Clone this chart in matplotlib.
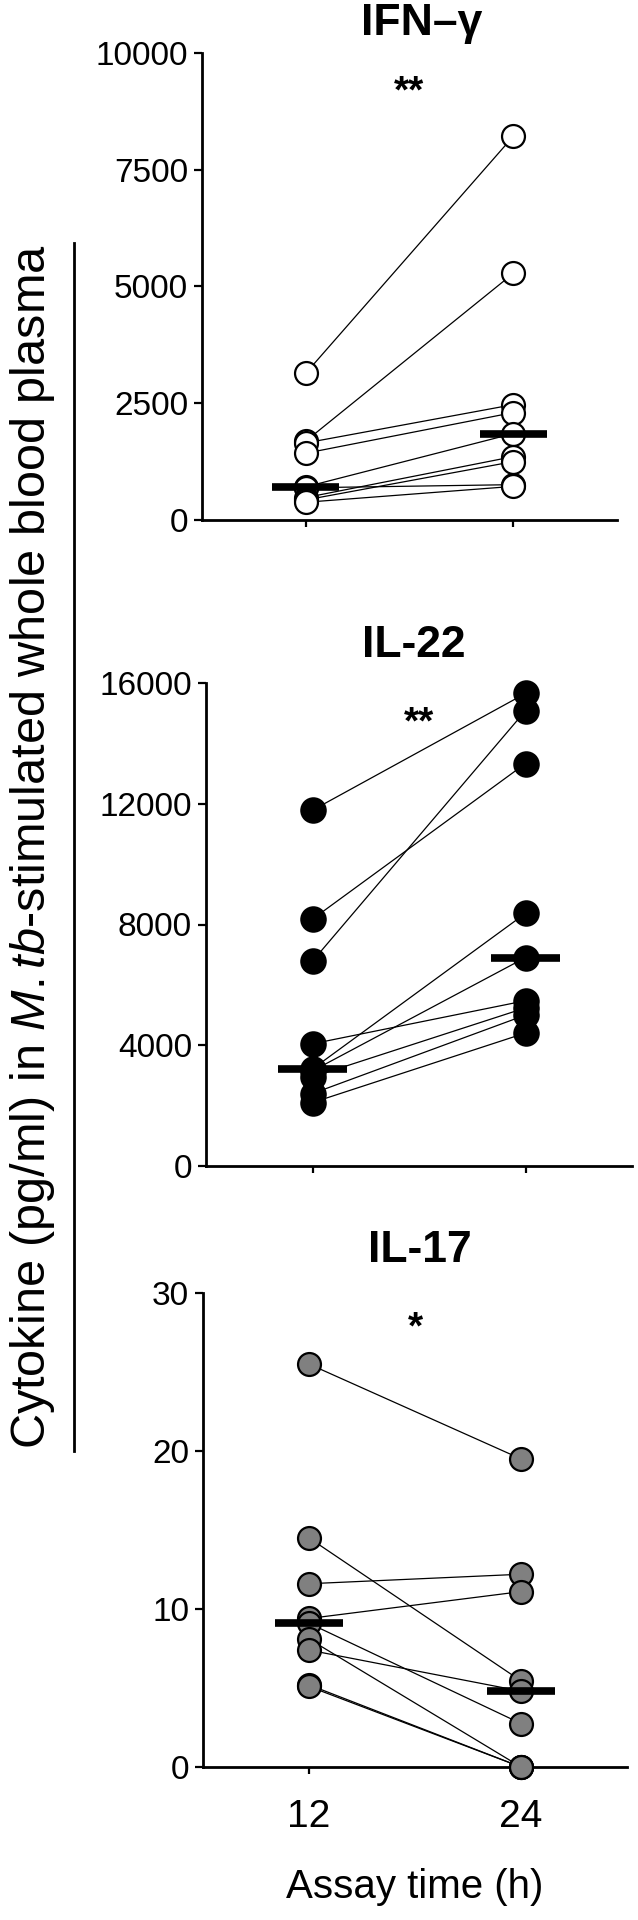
import numpy as np
import matplotlib.pyplot as plt
from matplotlib.lines import Line2D

plt.rcParams['font.family'] = 'Liberation Sans'
plt.rcParams['mathtext.fontset'] = 'custom'
plt.rcParams['mathtext.rm'] = 'Liberation Sans'
plt.rcParams['mathtext.it'] = 'Liberation Sans:italic'

W, H = 638, 1920
times = [12, 24]
time_labels = ['12', '24']

# paired values, one entry per donor (12 h, 24 h)
ifn_12 = [3142, 1690, 1650, 1430, 710, 690, 480, 430, 380]
ifn_24 = [8215, 5280, 2470, 2300, 1850, 757, 1357, 1250, 720]

il22_12 = [11786, 8178, 6786, 4048, 3214, 3150, 2950, 2400, 2100]
il22_24 = [15655, 13333, 15083, 5476, 8369, 6905, 5238, 5000, 4405]

il17_12 = [25.5, 14.5, 11.6, 9.4, 9.1, 8.1, 7.4, 5.2, 5.1]
il17_24 = [19.5, 5.45, 12.2, 11.1, 2.75, 0, 4.8, 0, 0]

titles = ['IFN\u2013\u03b3', 'IL-22', 'IL-17']
stars = ['**', '**', '*']
ymax = [10000, 16000, 30]
yticks = [[0, 2500, 5000, 7500, 10000],
          [0, 4000, 8000, 12000, 16000],
          [0, 10, 20, 30]]
fills = ['white', 'black', '#808080']
data = [(ifn_12, ifn_24), (il22_12, il22_24), (il17_12, il17_24)]

# axes boxes in pixels: x0, x1, ytop, ybottom
boxes = [(202, 617, 53, 520), (206, 632, 683, 1166), (203, 627, 1293, 1767)]
star_y = [8930, 14340, 27.1]
title_y = [1.039, 1.054, 1.065]
title_x = [18.7, 17.7, 18.3]

fig = plt.figure(figsize=(W / 100, H / 100), dpi=100)

for i in range(3):
    x0, x1, yt, yb = boxes[i]
    ax = fig.add_axes([x0 / W, 1 - yb / H, (x1 - x0) / W, (yb - yt) / H])
    a, b = data[i]
    for v12, v24 in zip(a, b):
        ax.plot(times, [v12, v24], color='black', lw=0.9, zorder=2)
    ms = 17.5 if i == 1 else 16.5
    ax.plot([12] * len(a), a, 'o', ms=ms, mfc=fills[i], mec='black', mew=1.6,
            zorder=3, clip_on=False)
    ax.plot([24] * len(b), b, 'o', ms=ms, mfc=fills[i], mec='black', mew=1.6,
            zorder=3, clip_on=False)
    for t, vals in zip(times, (a, b)):
        m = np.median(vals)
        ax.plot([t - 1.95, t + 1.95], [m, m], color='black', lw=5.5,
                solid_capstyle='butt', zorder=4, clip_on=False)

    ax.set_xlim(6, 30)
    ax.set_ylim(0, ymax[i])
    ax.set_yticks(yticks[i])
    ax.set_xticks(times)
    ax.spines['top'].set_visible(False)
    ax.spines['right'].set_visible(False)
    ax.spines['left'].set_linewidth(2)
    ax.spines['bottom'].set_linewidth(2)
    ax.tick_params(axis='y', length=6, width=1.6, labelsize=24, pad=4)
    ax.tick_params(axis='x', length=5, width=1.6, labelsize=28, pad=18)
    if i < 2:
        ax.set_xticklabels([])
    else:
        ax.set_xticklabels(time_labels)
        ax.set_xlabel('Assay time (h)', fontsize=29, labelpad=24)

    ax.text(title_x[i], title_y[i] * ymax[i], titles[i], fontsize=32,
            fontweight='bold', ha='center', va='baseline')
    ax.text(18, star_y[i], stars[i], fontsize=28, fontweight='bold',
            ha='center', va='baseline')

fig.text(33 / W, 1 - 847 / H,
         r'Cytokine (pg/ml) in $\it{M.tb}$-stimulated whole blood plasma',
         rotation=90, ha='center', va='center', fontsize=35)
fig.add_artist(Line2D([74 / W, 74 / W], [1 - 243 / H, 1 - 1451 / H],
                      color='black', lw=2))

fig.savefig('out.png', dpi=100)
